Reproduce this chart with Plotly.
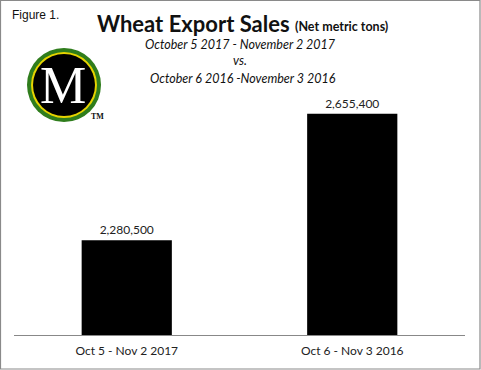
import plotly.graph_objects as go

categories = ["Oct 5 - Nov 2 2017", "Oct 6 - Nov 3 2016"]
values = [2280500, 2655400]
title_main = "Wheat Export Sales"
title_unit = "(Net metric tons)"
subtitle_lines = ["October 5 2017 - November 2 2017", "vs.", "October 6 2016 -November 3 2016"]

W, H = 481, 370
L, R, T, B = 14, 16, 65, 35
PW, PH = W - L - R, H - T - B
FONT = "Lato, Open Sans, sans-serif"

def px(x):
    return (x - L) / PW

def py(y):
    return (H - B - y) / PH

fig = go.Figure()
fig.add_trace(go.Bar(
    x=categories, y=values, width=0.40,
    marker=dict(color="#000000", line=dict(width=0)),
    text=[f"{v:,}" for v in values], textposition="outside",
    textfont=dict(family=FONT, size=12, color="#222"),
    cliponaxis=False, hoverinfo="skip",
))

shapes = [
    dict(type="rect", xref="paper", yref="paper", x0=px(0.5), x1=px(480), y0=py(0.5), y1=py(369),
         line=dict(color="#8a8a8a", width=1.2), fillcolor="rgba(0,0,0,0)", layer="below"),
    dict(type="circle", xref="paper", yref="paper", x0=px(27), x1=px(101), y0=py(48), y1=py(122),
         line=dict(width=0), fillcolor="#2f7d1c"),
    dict(type="circle", xref="paper", yref="paper", x0=px(31), x1=px(97), y0=py(52), y1=py(118),
         line=dict(width=0), fillcolor="#e6d400"),
    dict(type="circle", xref="paper", yref="paper", x0=px(33), x1=px(95), y0=py(54), y1=py(116),
         line=dict(width=0), fillcolor="#000000"),
]

ann = [
    dict(text="Figure 1.", x=px(10), y=py(15), xanchor="left", yanchor="middle",
         font=dict(family="Liberation Sans, Arial", size=12, color="#111")),
    dict(text=f"<b>{title_main}</b>",
         x=px(95), y=py(23), xanchor="left", yanchor="middle",
         font=dict(family=FONT, size=22, color="#111")),
    dict(text=f"<b>{title_unit}</b>",
         x=px(293), y=py(26), xanchor="left", yanchor="middle",
         font=dict(family=FONT, size=12.5, color="#111")),
    dict(text=f"<i>{subtitle_lines[0]}</i>", x=px(240), y=py(45), xanchor="center", yanchor="middle",
         font=dict(family=FONT, size=12.5, color="#111")),
    dict(text=f"<i>{subtitle_lines[1]}</i>", x=px(240), y=py(61), xanchor="center", yanchor="middle",
         font=dict(family=FONT, size=12.5, color="#111")),
    dict(text=f"<i>{subtitle_lines[2]}</i>", x=px(243), y=py(78), xanchor="center", yanchor="middle",
         font=dict(family=FONT, size=12.5, color="#111")),
    dict(text="M", x=px(63), y=py(86), xanchor="center", yanchor="middle",
         font=dict(family="Liberation Serif, Times New Roman, serif", size=52, color="#ffffff")),
    dict(text="<b>TM</b>", x=px(97), y=py(117), xanchor="center", yanchor="middle",
         font=dict(family="Liberation Serif, serif", size=8, color="#111")),
]
for a in ann:
    a.update(xref="paper", yref="paper", showarrow=False)

fig.update_layout(
    width=W, height=H, margin=dict(l=L, r=R, t=T, b=B),
    paper_bgcolor="white", plot_bgcolor="white", showlegend=False,
    shapes=shapes, annotations=ann,
    xaxis=dict(showline=True, linecolor="#888", linewidth=1, ticks="", showgrid=False,
               tickfont=dict(family=FONT, size=12, color="#222"), ticklabelstandoff=5,
               fixedrange=True),
    yaxis=dict(range=[2000000, 2800000], visible=False, showgrid=False, fixedrange=True),
)

fig.write_html("out.html", config={"displayModeBar": False},
               post_script="document.body.style.margin='0';document.body.style.overflow='hidden';")
